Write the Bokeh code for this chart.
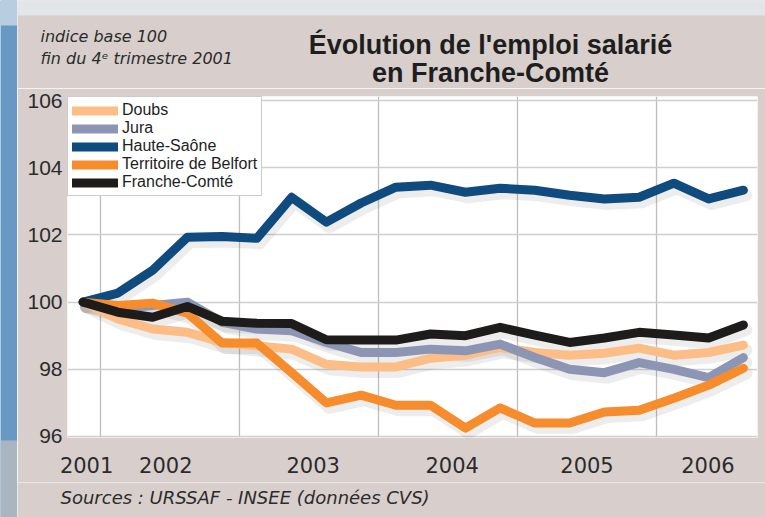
from bokeh.plotting import figure
from bokeh.models import Range1d, FixedTicker, Label, Legend, LegendItem
from bokeh.layouts import column, row
from bokeh.embed import file_html
from bokeh.resources import INLINE

# ---- data (index base 100 = 4th quarter 2001), quarterly ----
quarters = ["2001T4",
            "2002T1", "2002T2", "2002T3", "2002T4",
            "2003T1", "2003T2", "2003T3", "2003T4",
            "2004T1", "2004T2", "2004T3", "2004T4",
            "2005T1", "2005T2", "2005T3", "2005T4",
            "2006T1", "2006T2", "2006T3"]

doubs = [100.0, 99.5, 99.2, 99.1, 98.8, 98.7, 98.6, 98.15, 98.07, 98.07,
         98.33, 98.42, 98.65, 98.5, 98.42, 98.48, 98.63, 98.42, 98.5, 98.72]
jura = [100.0, 99.8, 99.9, 100.0, 99.4, 99.2, 99.15, 98.8, 98.5, 98.5,
        98.6, 98.55, 98.75, 98.35, 98.0, 97.9, 98.2, 98.0, 97.75, 98.35]
haute_saone = [100.0, 100.27, 100.95, 101.93, 101.95, 101.9, 103.12, 102.38, 102.95, 103.42,
               103.48, 103.27, 103.39, 103.33, 103.18, 103.07, 103.12, 103.54, 103.07, 103.33]
belfort = [100.0, 99.9, 99.97, 99.67, 98.78, 98.78, 97.9, 97.0, 97.23, 96.93,
           96.93, 96.25, 96.85, 96.4, 96.4, 96.73, 96.78, 97.14, 97.53, 98.03]
franche_comte = [100.0, 99.7, 99.55, 99.87, 99.43, 99.37, 99.36, 98.88, 98.87, 98.87,
                 99.05, 99.0, 99.25, 99.02, 98.8, 98.93, 99.1, 99.02, 98.93, 99.32]

series_names = ["Doubs", "Jura", "Haute-Saône", "Territoire de Belfort", "Franche-Comté"]
series_values = [doubs, jura, haute_saone, belfort, franche_comte]
series_colors = ["#fdbd86", "#8c96b4", "#0f4b7e", "#f68c2c", "#1e1b1b"]

year_labels = ["2001", "2002", "2003", "2004", "2005", "2006"]
year_label_pos = [2001.90, 2002.47, 2003.53, 2004.53, 2005.50, 2006.37]
year_bounds = [2002, 2003, 2004, 2005, 2006]
y_ticks = [96, 98, 100, 102, 104, 106]

title_lines = ["Évolution de l'emploi salarié", "en Franche-Comté"]
note_lines = ["indice base 100", "fin du 4ᵉ trimestre 2001"]
source_text = "Sources : URSSAF - INSEE (données CVS)"

# quarter -> fractional year at mid-quarter
xs = [int(q[:4]) + (int(q[-1]) - 0.5) / 4 for q in quarters]

PANEL = "#d8cfcc"
TXT = "#2b2b2b"
BASE_FIX = 6  # label baseline correction (px)
TOP_H = 88    # height of the title block


def blank(x0, x1, y0, y1):
    return figure(width=x1 - x0, height=y1 - y0,
                  x_range=Range1d(x0, x1), y_range=Range1d(y1, y0),
                  x_axis_type=None, y_axis_type=None, min_border=0,
                  output_backend="svg", toolbar_location=None,
                  background_fill_color=PANEL, border_fill_color=PANEL,
                  outline_line_color=None)


def put(f, text, x, y, size, style="normal", font="DejaVu Sans", align="left", color=TXT):
    f.add_layout(Label(x=x, y=y - BASE_FIX, text=text, text_font=font, text_font_size=size,
                       text_font_style=style, text_align=align, text_color=color,
                       text_baseline="alphabetic"))


# left decorative strip (photo background in the original)
strip = figure(width=17, height=517, x_range=Range1d(0, 17), y_range=Range1d(517, 0),
               x_axis_type=None, y_axis_type=None, min_border=0,
               output_backend="svg", toolbar_location=None,
               background_fill_color="#6a98c5", border_fill_color="#6a98c5",
               outline_line_color=None)
strip.quad(left=0, right=17, top=0, bottom=25, fill_color="#b9cde0", line_color=None)
strip.quad(left=0, right=17, top=440, bottom=517, fill_color="#a9b6c2", line_color=None)

# top block: titles (page pixel coordinates)
top = blank(17, 765, 0, TOP_H)
top.quad(left=17, right=765, top=0, bottom=15, fill_color="#e3e6e8", line_color=None)
put(top, title_lines[0], 490, 50, "27px", "bold", "Liberation Sans", "center", "#1e1e1e")
put(top, title_lines[1], 490, 78, "27px", "bold", "Liberation Sans", "center", "#1e1e1e")
put(top, note_lines[0], 40, 42, "16px", "italic")
put(top, note_lines[1], 40, 64, "16px", "italic")

# main chart (frame spans page y 96..437)
p = figure(frame_width=690, frame_height=341,
           min_border_left=50, min_border_right=8,
           min_border_top=96 - TOP_H, min_border_bottom=45,
           x_range=Range1d(2001.7626, 2006.7266),
           y_range=Range1d(95.97, 106.12),
           output_backend="svg", toolbar_location=None,
           background_fill_color="white", border_fill_color=PANEL,
           outline_line_color=None)

p.xaxis.ticker = FixedTicker(ticks=year_label_pos)
p.xaxis.major_label_overrides = {pos: lab for pos, lab in zip(year_label_pos, year_labels)}
p.yaxis.ticker = FixedTicker(ticks=y_ticks)
for ax in (p.xaxis[0], p.yaxis[0]):
    ax.axis_line_color = None
    ax.major_tick_line_color = None
    ax.minor_tick_line_color = None
    ax.major_tick_out = 0
    ax.major_tick_in = 0
    ax.major_label_text_color = TXT
p.xaxis.major_label_text_font = "DejaVu Sans"
p.xaxis.major_label_text_font_size = "21px"
p.xaxis.major_label_standoff = 19
p.yaxis.major_label_text_font = "Liberation Sans"
p.yaxis.major_label_text_font_size = "21px"
p.yaxis.major_label_standoff = 5

p.xgrid.ticker = FixedTicker(ticks=year_bounds)
p.ygrid.ticker = FixedTicker(ticks=y_ticks)
p.xgrid.grid_line_color = "#bdbdbd"
p.ygrid.grid_line_color = "#cfcfcf"
p.xgrid.grid_line_width = 1.3
p.ygrid.grid_line_width = 1.5

# soft shadows under the lines
dx, dy = 3 / 139, -5 / 33.6
for vals in series_values:
    p.line([x + dx for x in xs], [v + dy for v in vals], line_color="#505050",
           line_alpha=0.10, line_width=12, line_join="round", line_cap="round")

items = []
for name, vals, col in zip(series_names, series_values, series_colors):
    r = p.line(xs, vals, line_color=col, line_width=9,
               line_join="round", line_cap="round")
    items.append(LegendItem(label=name, renderers=[r]))

legend = Legend(items=items, location="top_left", margin=0, padding=4,
                spacing=0, label_height=17, glyph_height=17, glyph_width=46,
                label_standoff=4, label_text_font="Liberation Sans",
                label_text_font_size="16px", label_text_color="#1e1e1e",
                border_line_color="#9a9a9a", border_line_width=1,
                background_fill_color="white", background_fill_alpha=1)
p.add_layout(legend, "center")

# bottom block: sources
bottom = blank(17, 765, 482, 517)
put(bottom, source_text, 60, 503, "18px", "italic")

layout = row(strip, column(column(top), p, column(bottom), spacing=0), spacing=0)
open("out.html", "w").write(file_html(layout, INLINE))
